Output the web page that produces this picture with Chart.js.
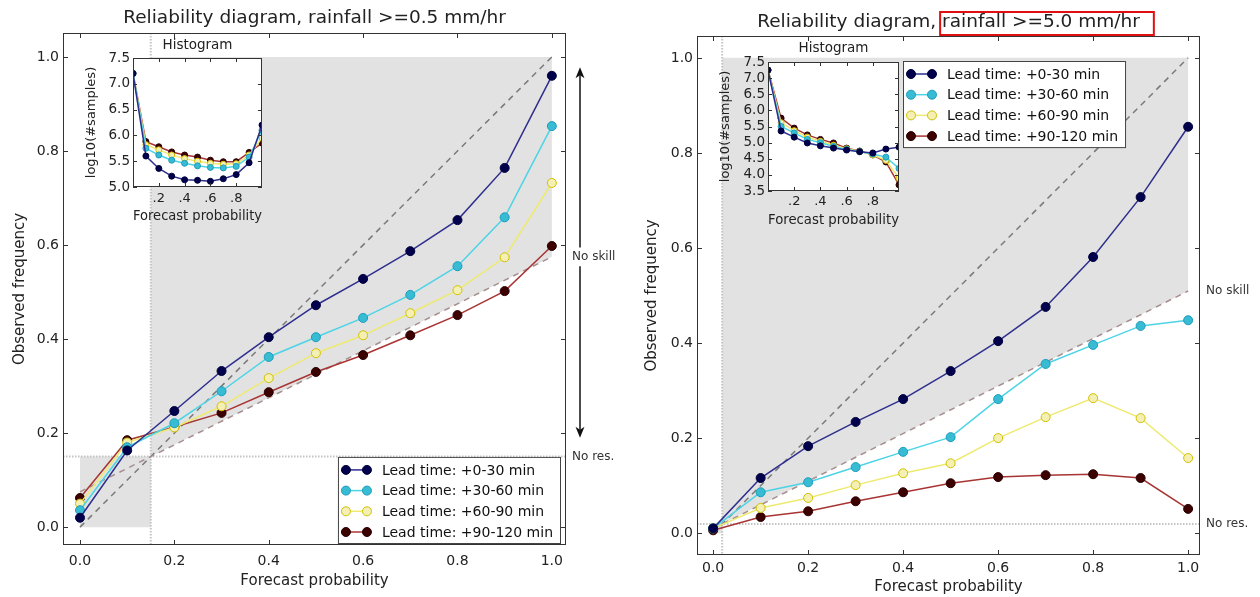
<!DOCTYPE html>
<html>
<head>
<meta charset="utf-8">
<script src="https://cdn.jsdelivr.net/npm/chart.js@4.4.0/dist/chart.umd.min.js"></script>
<style>
  html, body { margin: 0; padding: 0; background: #fff; width: 1260px; height: 597px; overflow: hidden; }
  canvas { position: absolute; }
</style>
</head>
<body>
<canvas id="mainL" width="630" height="597" style="left:0;top:0"></canvas>
<canvas id="mainR" width="630" height="597" style="left:630px;top:0"></canvas>
<canvas id="histL" width="200" height="200" style="left:80px;top:30px"></canvas>
<canvas id="histR" width="210" height="200" style="left:700px;top:30px"></canvas>
<script>
// forecast probability bins (x values of every curve)
const probs = [0, 0.1, 0.2, 0.3, 0.4, 0.5, 0.6, 0.7, 0.8, 0.9, 1.0];
const leadTimes = ['Lead time: +0-30 min', 'Lead time: +30-60 min', 'Lead time: +60-90 min', 'Lead time: +90-120 min'];
const mainTicks = [0, 0.2, 0.4, 0.6, 0.8, 1.0];
const insetTicks = [0.2, 0.4, 0.6, 0.8];
const insetTickLabels = ['.2', '.4', '.6', '.8'];
const histTicks05 = [5.0, 5.5, 6.0, 6.5, 7.0, 7.5];
const histTicks50 = [3.5, 4.0, 4.5, 5.0, 5.5, 6.0, 6.5, 7.0, 7.5];

// rainfall >= 0.5 mm/hr
const clim05 = 0.15;
const obs05_030 = [0.02, 0.163, 0.247, 0.332, 0.404, 0.472, 0.528, 0.587, 0.653, 0.764, 0.96];
const obs05_3060 = [0.036, 0.17, 0.221, 0.289, 0.362, 0.404, 0.445, 0.494, 0.555, 0.659, 0.853];
const obs05_6090 = [0.05, 0.18, 0.212, 0.257, 0.317, 0.37, 0.408, 0.455, 0.504, 0.574, 0.732];
const obs05_90120 = [0.062, 0.185, 0.213, 0.243, 0.287, 0.33, 0.366, 0.408, 0.451, 0.502, 0.598];
const hist05_030 = [7.2, 5.6, 5.36, 5.21, 5.14, 5.13, 5.11, 5.16, 5.24, 5.47, 6.2];
const hist05_3060 = [7.2, 5.75, 5.62, 5.52, 5.46, 5.41, 5.38, 5.37, 5.4, 5.58, 6.1];
const hist05_6090 = [7.2, 5.82, 5.72, 5.62, 5.55, 5.5, 5.46, 5.44, 5.45, 5.62, 5.95];
const hist05_90120 = [7.2, 5.88, 5.78, 5.68, 5.62, 5.58, 5.52, 5.49, 5.49, 5.67, 5.85];

// rainfall >= 5.0 mm/hr
const clim50 = 0.019;
const obs50_030 = [0.01, 0.116, 0.183, 0.234, 0.282, 0.341, 0.404, 0.476, 0.581, 0.707, 0.855];
const obs50_3060 = [0.01, 0.086, 0.107, 0.139, 0.171, 0.202, 0.282, 0.356, 0.396, 0.436, 0.448];
const obs50_6090 = [0.01, 0.053, 0.074, 0.101, 0.126, 0.147, 0.2, 0.244, 0.284, 0.242, 0.158];
const obs50_90120 = [0.006, 0.034, 0.046, 0.067, 0.086, 0.105, 0.118, 0.122, 0.124, 0.116, 0.051];
const hist50_030 = [7.25, 5.36, 5.17, 4.99, 4.9, 4.83, 4.77, 4.72, 4.68, 4.8, 4.86];
const hist50_3060 = [7.25, 5.5, 5.3, 5.1, 5.0, 4.88, 4.79, 4.72, 4.65, 4.55, 4.2];
const hist50_6090 = [7.25, 5.62, 5.37, 5.17, 5.04, 4.92, 4.81, 4.73, 4.62, 4.45, 3.9];
const hist50_90120 = [7.25, 5.76, 5.45, 5.24, 5.1, 4.99, 4.83, 4.74, 4.62, 4.4, 3.69];

const lineColors = ['#2e2e8e', '#4cd4e6', '#eeea70', '#a83434'];
const markerFill = ['#00004c', '#38bcd4', '#f4f0b4', '#3c0000'];
const markerEdge = ['#00003a', '#1c9cbc', '#d2c000', '#2a0000'];

const FONT = "'DejaVu Sans', sans-serif";
Chart.defaults.font.family = FONT;
Chart.defaults.color = '#222';

function series(values) {
  return probs.map((p, i) => ({x: p, y: values[i]}));
}

function seriesDatasets(sets, radius) {
  return sets.map((vals, i) => ({
    label: leadTimes[i],
    data: series(vals),
    showLine: true,
    borderColor: lineColors[i],
    borderWidth: 1.5,
    backgroundColor: markerFill[i],
    pointBackgroundColor: markerFill[i],
    pointBorderColor: markerEdge[i],
    pointBorderWidth: 1,
    pointRadius: radius,
    order: i
  }));
}

function referenceDatasets(clim) {
  return [
    {label: 'Perfect reliability', data: [{x: 0, y: 0}, {x: 1, y: 1}], showLine: true,
     borderColor: '#7a7a7a', borderDash: [6, 5], borderWidth: 1.5, pointRadius: 0, order: 10},
    {label: 'No skill', data: [{x: 0, y: clim / 2}, {x: 1, y: (1 + clim) / 2}], showLine: true,
     borderColor: '#a68e8e', borderDash: [6, 5], borderWidth: 1.5, pointRadius: 0, order: 9}
  ];
}

// axes title centred over the plot frame, like matplotlib does
function drawTitle(chart, text, size, cy) {
  const {ctx, chartArea: a} = chart;
  ctx.save();
  ctx.font = size + 'px ' + FONT;
  ctx.fillStyle = '#222';
  ctx.textAlign = 'center';
  ctx.textBaseline = 'middle';
  ctx.fillText(text, (a.left + a.right) / 2, cy);
  ctx.restore();
}

function drawFrame(chart, len) {
  const {ctx, chartArea: a, scales: {x, y}} = chart;
  ctx.save();
  ctx.strokeStyle = '#333';
  ctx.lineWidth = 1;
  ctx.strokeRect(a.left + 0.5, a.top + 0.5, a.right - a.left - 1, a.bottom - a.top - 1);
  ctx.beginPath();
  x.ticks.forEach(t => {
    const px = Math.round(x.getPixelForValue(t.value)) + 0.5;
    ctx.moveTo(px, a.bottom); ctx.lineTo(px, a.bottom - len);
    ctx.moveTo(px, a.top); ctx.lineTo(px, a.top + len);
  });
  y.ticks.forEach(t => {
    const py = Math.round(y.getPixelForValue(t.value)) + 0.5;
    ctx.moveTo(a.left, py); ctx.lineTo(a.left + len, py);
    ctx.moveTo(a.right, py); ctx.lineTo(a.right - len, py);
  });
  ctx.stroke();
  ctx.restore();
}

function drawSkillRegion(chart, clim) {
  const {ctx, chartArea: a, scales: {x, y}} = chart;
  const px = v => x.getPixelForValue(v), py = v => y.getPixelForValue(v);
  const noSkill = p => (p + clim) / 2;
  ctx.save();
  ctx.fillStyle = '#e2e2e2';
  ctx.beginPath();
  ctx.moveTo(px(clim), py(noSkill(clim)));
  ctx.lineTo(px(1), py(noSkill(1)));
  ctx.lineTo(px(1), py(1));
  ctx.lineTo(px(clim), py(1));
  ctx.closePath();
  ctx.moveTo(px(0), py(0));
  ctx.lineTo(px(clim), py(0));
  ctx.lineTo(px(clim), py(clim));
  ctx.lineTo(px(0), py(clim));
  ctx.closePath();
  ctx.fill();
  // no resolution lines
  ctx.strokeStyle = '#c4c4c4';
  ctx.lineWidth = 2;
  ctx.setLineDash([1.5, 1.5]);
  ctx.beginPath();
  ctx.moveTo(a.left, py(clim)); ctx.lineTo(a.right, py(clim));
  ctx.moveTo(px(clim), a.top); ctx.lineTo(px(clim), a.bottom);
  ctx.stroke();
  ctx.restore();
}

function arrow(ctx, x, y0, y1) {
  const dir = y1 < y0 ? -1 : 1;
  ctx.beginPath();
  ctx.moveTo(x, y0); ctx.lineTo(x, y1 - dir * 8);
  ctx.stroke();
  ctx.beginPath();
  ctx.moveTo(x, y1);
  ctx.lineTo(x - 4.5, y1 - dir * 11);
  ctx.lineTo(x, y1 - dir * 8);
  ctx.lineTo(x + 4.5, y1 - dir * 11);
  ctx.closePath();
  ctx.fill();
}

function drawMarks(chart, clim, arrows) {
  const {ctx, chartArea: a, scales: {y}} = chart;
  ctx.save();
  ctx.font = '12px ' + FONT;
  ctx.fillStyle = '#333';
  ctx.textAlign = 'left';
  ctx.textBaseline = 'middle';
  ctx.fillText('No skill', a.right + 6, y.getPixelForValue((1 + clim) / 2));
  ctx.fillText('No res.', a.right + 6, y.getPixelForValue(clim));
  if (arrows) {
    ctx.strokeStyle = '#111';
    ctx.fillStyle = '#111';
    ctx.lineWidth = 1.5;
    arrows.forEach(([from, to]) => arrow(ctx, a.right + 14, y.getPixelForValue(from), y.getPixelForValue(to)));
  }
  ctx.restore();
}

function drawLegend(chart, pos) {
  const {ctx, chartArea: a} = chart;
  const items = chart.data.datasets.filter(d => leadTimes.includes(d.label));
  ctx.save();
  ctx.font = '14px ' + FONT;
  const textW = Math.max(...items.map(d => ctx.measureText(d.label).width));
  const rowH = 20.7;
  const w = 44 + textW + 7;
  const h = 13 + (items.length - 1) * rowH + 11;
  const left = pos.right != null ? a.right - pos.right - w : a.left + pos.left;
  const top = pos.bottom != null ? a.bottom - pos.bottom - h : a.top + pos.top;
  ctx.fillStyle = '#fff';
  ctx.fillRect(left, top, w, h);
  ctx.strokeStyle = '#444';
  ctx.lineWidth = 1;
  ctx.strokeRect(left + 0.5, top + 0.5, w, h);
  items.forEach((d, i) => {
    const cy = top + 13 + i * rowH;
    ctx.strokeStyle = d.borderColor;
    ctx.lineWidth = 1.5;
    ctx.beginPath();
    ctx.moveTo(left + 8, cy); ctx.lineTo(left + 29, cy);
    ctx.stroke();
    [left + 8, left + 29].forEach(mx => {
      ctx.beginPath();
      ctx.arc(mx, cy, 4.5, 0, Math.PI * 2);
      ctx.fillStyle = d.pointBackgroundColor;
      ctx.fill();
      ctx.strokeStyle = d.pointBorderColor;
      ctx.lineWidth = 1;
      ctx.stroke();
    });
    ctx.fillStyle = '#111';
    ctx.textAlign = 'left';
    ctx.textBaseline = 'middle';
    ctx.fillText(d.label, left + 44, cy + 1);
  });
  ctx.restore();
}

function drawHighlight(chart, full, part, size) {
  const {ctx, chartArea: a} = chart;
  ctx.save();
  ctx.font = size + 'px ' + FONT;
  const cx = (a.left + a.right) / 2;
  const start = cx - ctx.measureText(full).width / 2 + ctx.measureText(full.slice(0, full.indexOf(part))).width;
  const pw = ctx.measureText(part).width;
  ctx.strokeStyle = '#e01010';
  ctx.lineWidth = 2;
  ctx.strokeRect(start - 2, a.top - 24, pw + 16, 23);
  ctx.restore();
}

function mainChart(id, title, sets, clim, lay, extras) {
  return new Chart(document.getElementById(id), {
    type: 'scatter',
    data: {datasets: [...seriesDatasets(sets, 4.5), ...referenceDatasets(clim)]},
    options: {
      responsive: false,
      animation: false,
      devicePixelRatio: 1,
      layout: {padding: {left: 0, right: lay.right, top: lay.top, bottom: 0}},
      plugins: {
        legend: {display: false},
        tooltip: {enabled: false},
        title: {display: false}
      },
      scales: {
        x: {
          type: 'linear', min: lay.xlim[0], max: lay.xlim[1],
          grid: {display: false, drawTicks: false}, border: {display: false},
          afterBuildTicks: s => { s.ticks = mainTicks.map(v => ({value: v})); },
          afterFit: s => { s.height = lay.bottom; },
          ticks: {font: {size: 14}, padding: lay.xTickPad, maxRotation: 0, autoSkip: false, callback: v => v.toFixed(1)},
          title: {display: true, text: 'Forecast probability', font: {size: 15}, padding: {top: 0, bottom: lay.xTitlePad}}
        },
        y: {
          type: 'linear', min: lay.ylim[0], max: lay.ylim[1],
          grid: {display: false, drawTicks: false}, border: {display: false},
          afterBuildTicks: s => { s.ticks = mainTicks.map(v => ({value: v})); },
          afterFit: s => { s.width = lay.left; },
          ticks: {font: {size: 14}, padding: 4, autoSkip: false, callback: v => v.toFixed(1)},
          title: {display: true, text: 'Observed frequency', font: {size: 15}, padding: {top: lay.yTitlePad, bottom: 0}}
        }
      }
    },
    plugins: [{
      id: 'reliability',
      beforeDatasetsDraw: chart => drawSkillRegion(chart, clim),
      afterDraw: chart => {
        drawFrame(chart, 5);
        drawTitle(chart, title, 18.5, lay.titleY);
        drawMarks(chart, clim, extras.arrows);
        drawLegend(chart, extras.legend);
        if (extras.highlight) drawHighlight(chart, title, extras.highlight, 18.5);
      }
    }]
  });
}

function insetChart(id, sets, yTicks, lay) {
  return new Chart(document.getElementById(id), {
    type: 'scatter',
    data: {datasets: seriesDatasets(sets, 3)},
    options: {
      responsive: false,
      animation: false,
      devicePixelRatio: 1,
      layout: {padding: {left: 0, right: lay.right, top: lay.top, bottom: 0}},
      plugins: {
        legend: {display: false},
        tooltip: {enabled: false},
        title: {display: false}
      },
      scales: {
        x: {
          type: 'linear', min: 0, max: 1,
          grid: {display: false, drawTicks: false}, border: {display: false},
          afterBuildTicks: s => { s.ticks = insetTicks.map(v => ({value: v})); },
          afterFit: s => { s.height = lay.bottom; },
          ticks: {font: {size: 13}, padding: lay.xTickPad, maxRotation: 0, autoSkip: false,
                  callback: v => insetTickLabels[insetTicks.indexOf(v)]},
          title: {display: true, text: 'Forecast probability', font: {size: 14}, padding: {top: 0, bottom: lay.xTitlePad}}
        },
        y: {
          type: 'linear', min: yTicks[0], max: yTicks[yTicks.length - 1],
          grid: {display: false, drawTicks: false}, border: {display: false},
          afterBuildTicks: s => { s.ticks = yTicks.map(v => ({value: v})); },
          afterFit: s => { s.width = lay.left; },
          ticks: {font: {size: 13.5, lineHeight: 1}, padding: 3, autoSkip: false, callback: v => v.toFixed(1)},
          title: {display: true, text: 'log10(#samples)', font: {size: 13}, padding: {top: lay.yTitlePad, bottom: 0}}
        }
      }
    },
    plugins: [{
      id: 'insetFrame',
      beforeDatasetsDraw: chart => {
        const {ctx, chartArea: a} = chart;
        ctx.save();
        ctx.fillStyle = '#fff';
        ctx.fillRect(a.left, a.top, a.right - a.left, a.bottom - a.top);
        ctx.restore();
      },
      afterDraw: chart => {
        drawFrame(chart, 4);
        drawTitle(chart, 'Histogram', 13.5, lay.titleY);
      }
    }]
  });
}

mainChart('mainL', 'Reliability diagram, rainfall >=0.5 mm/hr',
  [obs05_030, obs05_3060, obs05_6090, obs05_90120], clim05,
  {left: 63, right: 64, top: 33, titleY: 18, bottom: 52, xTickPad: 8, xTitlePad: 7, yTitlePad: 11,
   xlim: [-0.036, 1.03], ylim: [-0.038, 1.051]},
  {arrows: [[0.595, 0.978], [0.555, 0.19]], legend: {right: 6, bottom: 2}});

mainChart('mainR', 'Reliability diagram, rainfall >=5.0 mm/hr',
  [obs50_030, obs50_3060, obs50_6090, obs50_90120], clim50,
  {left: 67, right: 60, top: 36, titleY: 22, bottom: 42, xTickPad: 5, xTitlePad: 1, yTitlePad: 13,
   xlim: [-0.034, 1.025], ylim: [-0.046, 1.046]},
  {legend: {left: 206, top: 25}, highlight: 'rainfall >=5.0 mm/hr'});

insetChart('histL', [hist05_030, hist05_3060, hist05_6090, hist05_90120], histTicks05,
  {left: 53, right: 18, top: 28, titleY: 15, bottom: 43, xTickPad: 4, xTitlePad: 5, yTitlePad: 4});

insetChart('histR', [hist50_030, hist50_3060, hist50_6090, hist50_90120], histTicks50,
  {left: 68, right: 11, top: 32, titleY: 18, bottom: 39, xTickPad: 3, xTitlePad: 1, yTitlePad: 18});
</script>
</body>
</html>
